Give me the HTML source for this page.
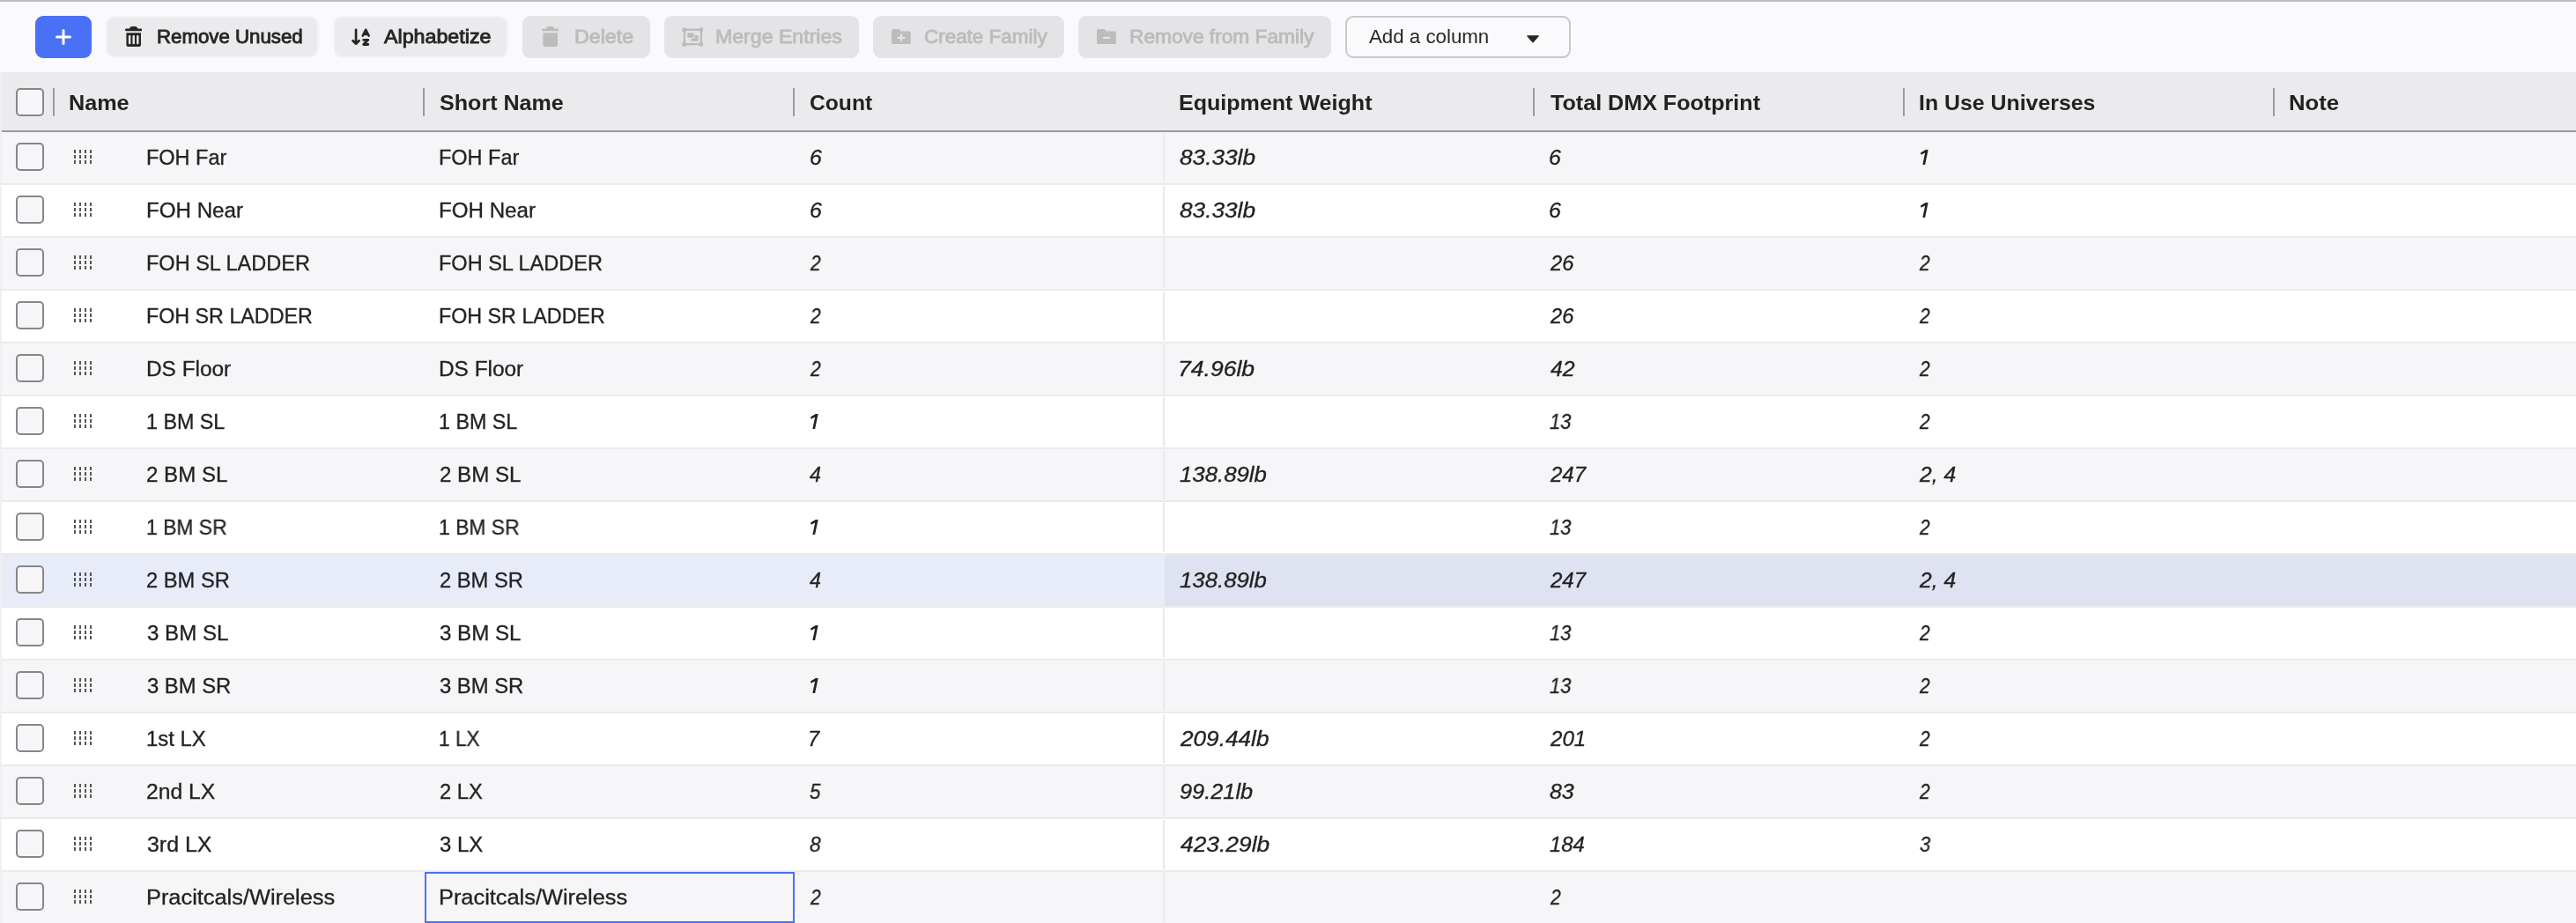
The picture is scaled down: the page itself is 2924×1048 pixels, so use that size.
<!DOCTYPE html>
<html lang="en"><head><meta charset="utf-8"><title>Positions</title>
<style>
html,body{margin:0;padding:0}
body{width:2924px;height:1048px;overflow:hidden;background:#fafafc;font-family:"Liberation Sans",sans-serif;color:#222;position:relative}
.topline{position:absolute;left:0;top:0;width:2924px;height:2px;background:#bcbcc2}
.toolbar{position:absolute;left:0;top:2px;width:2924px;height:80px;background:#fafafc}
.btn{position:absolute;top:16px;height:48px;box-sizing:border-box;border-radius:9px}
.btn.add{left:40px;width:64px;background:#4a71f5}
.btn.plain{background:#ebebee;box-shadow:0 0 0 2px #f4f4f7;border-radius:8px;top:18px;height:44px}
.plain .b{line-height:44px;height:44px}
.btn.dis{background:#e4e4e7}
.btn.sel{background:#fafafc;box-shadow:inset 0 0 0 2px #c9c9cc;border-radius:9px}
.btn svg{position:absolute}
.t{position:absolute;white-space:nowrap;transform-origin:0 50%;display:block;will-change:transform}
.b,.s{font-size:22px;line-height:48px;top:-0.5px;height:48px}
.b{font-size:21.2px;top:-0.4px}
.b{color:#262626;-webkit-text-stroke:0.85px #262626}
.dis .b{color:#bcbcbd;-webkit-text-stroke:0.85px #bcbcbd}
.s{color:#262626}
.grid{position:absolute;left:0;top:82px;width:2924px;height:966px;background:#fff}
.lb{position:absolute;left:0;top:82px;width:2px;height:966px;background:#f0f0f3;z-index:5;border-top-left-radius:3px}
.lbh{position:absolute;left:0;top:82px;width:2px;height:68px;background:#eeeef1;z-index:6;border-top-left-radius:3px}
.hdr{position:absolute;left:0;top:0;width:2924px;height:66px;background:#ebebee;border-bottom:2px solid #9898a2;border-top-left-radius:4px}
.h{font-size:24px;font-weight:bold;line-height:66px;top:2px;height:66px;color:#222}
.sep{position:absolute;top:18px;width:2px;height:32px;background:#9a9aa6}
.cb{position:absolute;left:18px;width:32px;height:32px;box-sizing:border-box;border:2px solid #878789;border-radius:5px;background:#f6f6f8}
.row{position:absolute;left:0;width:2924px;height:58px;border-bottom:2px solid #ebebee;background:#fff}
.row.odd{background:#f6f6f9}
.row.hov{background:#e8ecf9}
.row .rt{position:absolute;left:1322px;top:0;width:1602px;height:58px}
.row .vl{position:absolute;left:1320px;top:1px;width:2px;height:56px;background:#eaeaed}
.row.hov .rt{background:#dfe3f1}
.row.hov .vl{background:#e9edf9}
.r,.i{font-size:23px;line-height:58px;top:0;height:58px;color:#222;-webkit-text-stroke:0.3px #222}
.i{font-style:italic}
.one{position:absolute;top:19.800px}
.drag{position:absolute;left:84px;top:20px;width:20px;height:16px}
.edit{position:absolute;left:482px;top:0;width:420px;height:58px;box-sizing:border-box;border:2px solid #4a71f5;background:#f6f6f9}
</style></head><body>
<div class="topline"></div>
<div class="toolbar">
<div class="btn add"><svg style="left:22px;top:14px" width="20" height="20" viewBox="0 0 20 20"><path d="M10 2.500v15M2.500 10h15" stroke="#fff" stroke-width="3" stroke-linecap="round" fill="none"/></svg></div>
<div class="btn plain" style="left:122px;width:238px"><svg style="left:20px;top:9.800px" width="19.400" height="23" viewBox="0 0 19.400 23"><path fill="#262626" d="M7.300 0h4.800q.600 0 1 .500l1.500 2h3.500a1.350 1.350 0 0 1 0 2.700h-16.800a1.350 1.350 0 0 1 0-2.700h3.500l1.500-2q.400-.500 1-.500zM1.400 7.200h16.600v13.200a2.600 2.600 0 0 1-2.600 2.600h-11.400a2.600 2.600 0 0 1-2.600-2.600z"/><g fill="#ebebee"><rect x="3.900" y="9.900" width="2.400" height="10.400" rx="1.200"/><rect x="8.500" y="9.900" width="2.400" height="10.400" rx="1.200"/><rect x="13.100" y="9.900" width="2.400" height="10.400" rx="1.200"/></g></svg><span class="t b" style="left:55.78px;transform:scaleX(1.0496)">Remove Unused</span></div>
<div class="btn plain" style="left:380px;width:195px"><svg style="left:19px;top:12px" width="22" height="21" viewBox="0 0 22 21" fill="none" stroke="#262626" stroke-linecap="round" stroke-linejoin="round"><path d="M5.060 1.800V17.700M1.600 14.300L5.060 17.800L8.500 14.300" stroke-width="2.700"/><path d="M12.800 8.500L16.200 1.800L19.600 8.500M14.300 6.900H18.100" stroke-width="2.700"/><path d="M13.600 13.300H18.800L13.600 18.500H18.800" stroke-width="2.800"/></svg><span class="t b" style="left:55.92px;transform:scaleX(1.0966)">Alphabetize</span></div>
<div class="btn dis" style="left:593px;width:145px"><svg style="left:22px;top:12px" width="19.400" height="23" viewBox="0 0 19.400 23"><path fill="#bcbcbd" d="M7.300 0h4.800q.600 0 1 .500l1.500 2h3.500a1.350 1.350 0 0 1 0 2.700h-16.800a1.350 1.350 0 0 1 0-2.700h3.500l1.500-2q.400-.500 1-.500zM1.400 7.200h16.600v13.200a2.600 2.600 0 0 1-2.600 2.600h-11.400a2.600 2.600 0 0 1-2.600-2.600z"/></svg><span class="t b" style="left:58.8px;transform:scaleX(1.0967)">Delete</span></div>
<div class="btn dis" style="left:754px;width:221px"><svg style="left:19.600px;top:13px" width="24.800" height="22" viewBox="0 0 24.800 22"><rect x="2.900" y="2.800" width="19" height="16.400" fill="none" stroke="#bcbcbd" stroke-width="2.300"/><g fill="#bcbcbd"><circle cx="2.700" cy="2.800" r="2.650"/><circle cx="22.100" cy="2.800" r="2.650"/><circle cx="2.700" cy="19.200" r="2.650"/><circle cx="22.100" cy="19.200" r="2.650"/><rect x="10.400" y="8.800" width="8.200" height="7" rx="1.600"/></g><rect x="5" y="5" width="9.900" height="8" rx="2.400" fill="#e4e4e7"/><rect x="6.200" y="6.200" width="7.400" height="5.500" rx="1.400" fill="#bcbcbd"/></svg><span class="t b" style="left:58.01px;transform:scaleX(1.0911)">Merge Entries</span></div>
<div class="btn dis" style="left:991px;width:217px"><svg style="left:21px;top:14.800px" width="21.800" height="17.700" viewBox="0 0 21.800 17.700"><path fill="#bcbcbd" d="M2 0h5.800q.800 0 1.400.600l1.800 1.800H19.800a2 2 0 0 1 2 2V15.700a2 2 0 0 1-2 2H2a2 2 0 0 1-2-2V2a2 2 0 0 1 2-2z"/><path d="M11 6.300v7M7.500 9.800h7" stroke="#e4e4e7" stroke-width="2.200" stroke-linecap="round"/></svg><span class="t b" style="left:58.07px;transform:scaleX(1.0588)">Create Family</span></div>
<div class="btn dis" style="left:1224px;width:287px"><svg style="left:21px;top:14.800px" width="21.800" height="17.700" viewBox="0 0 21.800 17.700"><path fill="#bcbcbd" d="M2 0h5.800q.800 0 1.400.600l1.800 1.800H19.800a2 2 0 0 1 2 2V15.700a2 2 0 0 1-2 2H2a2 2 0 0 1-2-2V2a2 2 0 0 1 2-2z"/><path d="M7.800 9.800h6.400" stroke="#e4e4e7" stroke-width="2.200" stroke-linecap="round"/></svg><span class="t b" style="left:57.85px;transform:scaleX(1.0715)">Remove from Family</span></div>
<div class="btn sel" style="left:1527px;width:256px"><span class="t s" style="left:26.8px;transform:scaleX(1.0128)">Add a column</span><svg style="left:205px;top:22px" width="16" height="9" viewBox="0 0 16 9"><path d="M1.500 0.800h13L8 8.300z" fill="#262626" stroke="#262626" stroke-width="1" stroke-linejoin="round"/></svg></div>
</div>
<div class="grid">
<div class="hdr"><div class="cb" style="top:18px"></div><div class="sep" style="left:60px"></div><span class="t h" style="left:78.33px;transform:scaleX(1.0495)">Name</span><div class="sep" style="left:480px"></div><span class="t h" style="left:499.01px;transform:scaleX(1.0454)">Short Name</span><div class="sep" style="left:900px"></div><span class="t h" style="left:918.63px;transform:scaleX(1.0272)">Count</span><span class="t h" style="left:1338.03px;transform:scaleX(1.0441)">Equipment Weight</span><div class="sep" style="left:1740px"></div><span class="t h" style="left:1759.8px;transform:scaleX(1.0462)">Total DMX Footprint</span><div class="sep" style="left:2160px"></div><span class="t h" style="left:2178.15px;transform:scaleX(1.0358)">In Use Universes</span><div class="sep" style="left:2580px"></div><span class="t h" style="left:2598.1px;transform:scaleX(1.0696)">Note</span></div>
<div class="row odd" style="top:68px"><div class="rt"></div><div class="vl"></div><div class="cb" style="top:12px"></div><svg class="drag" width="20" height="16" viewBox="0 0 20 16" shape-rendering="crispEdges"><g fill="#555"><rect x="0" y="0" width="2" height="4"/><rect x="0" y="6" width="2" height="4"/><rect x="0" y="12" width="2" height="4"/><rect x="6" y="0" width="2" height="4"/><rect x="6" y="6" width="2" height="4"/><rect x="6" y="12" width="2" height="4"/><rect x="12" y="0" width="2" height="4"/><rect x="12" y="6" width="2" height="4"/><rect x="12" y="12" width="2" height="4"/><rect x="18" y="0" width="2" height="4"/><rect x="18" y="6" width="2" height="4"/><rect x="18" y="12" width="2" height="4"/></g></svg><span class="t r" style="left:165.77px;transform:scaleX(1.0202)">FOH Far</span><span class="t r" style="left:497.87px;transform:scaleX(1.0202)">FOH Far</span><span class="t i" style="left:918.84px;transform:scaleX(1.0793)">6</span><span class="t i" style="left:1339.29px;transform:scaleX(1.1392)">83.33lb</span><span class="t i" style="left:1758.44px;transform:scaleX(1.0793)">6</span><svg class="one" style="left:2179.6px" width="9" height="17.500" viewBox="0 0 9 17.500" role="img" aria-label="1"><title>1</title><path fill="#222" d="M5.800 0H8.650L5.050 17.300H2.300L5.150 3.500L.700 5.800L0 3.400Z"/></svg></div>
<div class="row" style="top:128px"><div class="rt"></div><div class="vl"></div><div class="cb" style="top:12px"></div><svg class="drag" width="20" height="16" viewBox="0 0 20 16" shape-rendering="crispEdges"><g fill="#555"><rect x="0" y="0" width="2" height="4"/><rect x="0" y="6" width="2" height="4"/><rect x="0" y="12" width="2" height="4"/><rect x="6" y="0" width="2" height="4"/><rect x="6" y="6" width="2" height="4"/><rect x="6" y="12" width="2" height="4"/><rect x="12" y="0" width="2" height="4"/><rect x="12" y="6" width="2" height="4"/><rect x="12" y="12" width="2" height="4"/><rect x="18" y="0" width="2" height="4"/><rect x="18" y="6" width="2" height="4"/><rect x="18" y="12" width="2" height="4"/></g></svg><span class="t r" style="left:165.71px;transform:scaleX(1.0497)">FOH Near</span><span class="t r" style="left:497.81px;transform:scaleX(1.0497)">FOH Near</span><span class="t i" style="left:918.84px;transform:scaleX(1.0793)">6</span><span class="t i" style="left:1339.29px;transform:scaleX(1.1392)">83.33lb</span><span class="t i" style="left:1758.44px;transform:scaleX(1.0793)">6</span><svg class="one" style="left:2179.6px" width="9" height="17.500" viewBox="0 0 9 17.500" role="img" aria-label="1"><title>1</title><path fill="#222" d="M5.800 0H8.650L5.050 17.300H2.300L5.150 3.500L.700 5.800L0 3.400Z"/></svg></div>
<div class="row odd" style="top:188px"><div class="rt"></div><div class="vl"></div><div class="cb" style="top:12px"></div><svg class="drag" width="20" height="16" viewBox="0 0 20 16" shape-rendering="crispEdges"><g fill="#555"><rect x="0" y="0" width="2" height="4"/><rect x="0" y="6" width="2" height="4"/><rect x="0" y="12" width="2" height="4"/><rect x="6" y="0" width="2" height="4"/><rect x="6" y="6" width="2" height="4"/><rect x="6" y="12" width="2" height="4"/><rect x="12" y="0" width="2" height="4"/><rect x="12" y="6" width="2" height="4"/><rect x="12" y="12" width="2" height="4"/><rect x="18" y="0" width="2" height="4"/><rect x="18" y="6" width="2" height="4"/><rect x="18" y="12" width="2" height="4"/></g></svg><span class="t r" style="left:165.76px;transform:scaleX(1.0218)">FOH SL LADDER</span><span class="t r" style="left:497.86px;transform:scaleX(1.0218)">FOH SL LADDER</span><span class="t i" style="left:919.63px;transform:scaleX(0.9121)">2</span><span class="t i" style="left:1759.97px;transform:scaleX(1.0273)">26</span><span class="t i" style="left:2179.33px;transform:scaleX(0.9121)">2</span></div>
<div class="row" style="top:248px"><div class="rt"></div><div class="vl"></div><div class="cb" style="top:12px"></div><svg class="drag" width="20" height="16" viewBox="0 0 20 16" shape-rendering="crispEdges"><g fill="#555"><rect x="0" y="0" width="2" height="4"/><rect x="0" y="6" width="2" height="4"/><rect x="0" y="12" width="2" height="4"/><rect x="6" y="0" width="2" height="4"/><rect x="6" y="6" width="2" height="4"/><rect x="6" y="12" width="2" height="4"/><rect x="12" y="0" width="2" height="4"/><rect x="12" y="6" width="2" height="4"/><rect x="12" y="12" width="2" height="4"/><rect x="18" y="0" width="2" height="4"/><rect x="18" y="6" width="2" height="4"/><rect x="18" y="12" width="2" height="4"/></g></svg><span class="t r" style="left:165.78px;transform:scaleX(1.0120)">FOH SR LADDER</span><span class="t r" style="left:497.88px;transform:scaleX(1.0120)">FOH SR LADDER</span><span class="t i" style="left:919.63px;transform:scaleX(0.9121)">2</span><span class="t i" style="left:1759.97px;transform:scaleX(1.0273)">26</span><span class="t i" style="left:2179.33px;transform:scaleX(0.9121)">2</span></div>
<div class="row odd" style="top:308px"><div class="rt"></div><div class="vl"></div><div class="cb" style="top:12px"></div><svg class="drag" width="20" height="16" viewBox="0 0 20 16" shape-rendering="crispEdges"><g fill="#555"><rect x="0" y="0" width="2" height="4"/><rect x="0" y="6" width="2" height="4"/><rect x="0" y="12" width="2" height="4"/><rect x="6" y="0" width="2" height="4"/><rect x="6" y="6" width="2" height="4"/><rect x="6" y="12" width="2" height="4"/><rect x="12" y="0" width="2" height="4"/><rect x="12" y="6" width="2" height="4"/><rect x="12" y="12" width="2" height="4"/><rect x="18" y="0" width="2" height="4"/><rect x="18" y="6" width="2" height="4"/><rect x="18" y="12" width="2" height="4"/></g></svg><span class="t r" style="left:165.69px;transform:scaleX(1.0604)">DS Floor</span><span class="t r" style="left:497.79px;transform:scaleX(1.0604)">DS Floor</span><span class="t i" style="left:919.63px;transform:scaleX(0.9121)">2</span><span class="t i" style="left:1337.21px;transform:scaleX(1.1536)">74.96lb</span><span class="t i" style="left:1759.6px;transform:scaleX(1.0800)">42</span><span class="t i" style="left:2179.33px;transform:scaleX(0.9121)">2</span></div>
<div class="row" style="top:368px"><div class="rt"></div><div class="vl"></div><div class="cb" style="top:12px"></div><svg class="drag" width="20" height="16" viewBox="0 0 20 16" shape-rendering="crispEdges"><g fill="#555"><rect x="0" y="0" width="2" height="4"/><rect x="0" y="6" width="2" height="4"/><rect x="0" y="12" width="2" height="4"/><rect x="6" y="0" width="2" height="4"/><rect x="6" y="6" width="2" height="4"/><rect x="6" y="12" width="2" height="4"/><rect x="12" y="0" width="2" height="4"/><rect x="12" y="6" width="2" height="4"/><rect x="12" y="12" width="2" height="4"/><rect x="18" y="0" width="2" height="4"/><rect x="18" y="6" width="2" height="4"/><rect x="18" y="12" width="2" height="4"/></g></svg><span class="t r" style="left:166.15px;transform:scaleX(1.0117)">1 BM SL</span><span class="t r" style="left:498.25px;transform:scaleX(1.0117)">1 BM SL</span><svg class="one" style="left:920.0px" width="9" height="17.500" viewBox="0 0 9 17.500" role="img" aria-label="1"><title>1</title><path fill="#222" d="M5.800 0H8.650L5.050 17.300H2.300L5.150 3.500L.700 5.800L0 3.400Z"/></svg><span class="t i" style="left:1759.26px;transform:scaleX(0.9500)">13</span><span class="t i" style="left:2179.33px;transform:scaleX(0.9121)">2</span></div>
<div class="row odd" style="top:428px"><div class="rt"></div><div class="vl"></div><div class="cb" style="top:12px"></div><svg class="drag" width="20" height="16" viewBox="0 0 20 16" shape-rendering="crispEdges"><g fill="#555"><rect x="0" y="0" width="2" height="4"/><rect x="0" y="6" width="2" height="4"/><rect x="0" y="12" width="2" height="4"/><rect x="6" y="0" width="2" height="4"/><rect x="6" y="6" width="2" height="4"/><rect x="6" y="12" width="2" height="4"/><rect x="12" y="0" width="2" height="4"/><rect x="12" y="6" width="2" height="4"/><rect x="12" y="12" width="2" height="4"/><rect x="18" y="0" width="2" height="4"/><rect x="18" y="6" width="2" height="4"/><rect x="18" y="12" width="2" height="4"/></g></svg><span class="t r" style="left:166.47px;transform:scaleX(1.0468)">2 BM SL</span><span class="t r" style="left:498.57px;transform:scaleX(1.0468)">2 BM SL</span><span class="t i" style="left:919.3px;transform:scaleX(1.0148)">4</span><span class="t i" style="left:1339.3px;transform:scaleX(1.1212)">138.89lb</span><span class="t i" style="left:1759.98px;transform:scaleX(1.0455)">247</span><span class="t i" style="left:2179.39px;transform:scaleX(1.0747)">2, 4</span></div>
<div class="row" style="top:488px"><div class="rt"></div><div class="vl"></div><div class="cb" style="top:12px"></div><svg class="drag" width="20" height="16" viewBox="0 0 20 16" shape-rendering="crispEdges"><g fill="#555"><rect x="0" y="0" width="2" height="4"/><rect x="0" y="6" width="2" height="4"/><rect x="0" y="12" width="2" height="4"/><rect x="6" y="0" width="2" height="4"/><rect x="6" y="6" width="2" height="4"/><rect x="6" y="12" width="2" height="4"/><rect x="12" y="0" width="2" height="4"/><rect x="12" y="6" width="2" height="4"/><rect x="12" y="12" width="2" height="4"/><rect x="18" y="0" width="2" height="4"/><rect x="18" y="6" width="2" height="4"/><rect x="18" y="12" width="2" height="4"/></g></svg><span class="t r" style="left:166.17px;transform:scaleX(0.9946)">1 BM SR</span><span class="t r" style="left:498.27px;transform:scaleX(0.9946)">1 BM SR</span><svg class="one" style="left:920.0px" width="9" height="17.500" viewBox="0 0 9 17.500" role="img" aria-label="1"><title>1</title><path fill="#222" d="M5.800 0H8.650L5.050 17.300H2.300L5.150 3.500L.700 5.800L0 3.400Z"/></svg><span class="t i" style="left:1759.26px;transform:scaleX(0.9500)">13</span><span class="t i" style="left:2179.33px;transform:scaleX(0.9121)">2</span></div>
<div class="row odd hov" style="top:548px"><div class="rt"></div><div class="vl"></div><div class="cb" style="top:12px"></div><svg class="drag" width="20" height="16" viewBox="0 0 20 16" shape-rendering="crispEdges"><g fill="#555"><rect x="0" y="0" width="2" height="4"/><rect x="0" y="6" width="2" height="4"/><rect x="0" y="12" width="2" height="4"/><rect x="6" y="0" width="2" height="4"/><rect x="6" y="6" width="2" height="4"/><rect x="6" y="12" width="2" height="4"/><rect x="12" y="0" width="2" height="4"/><rect x="12" y="6" width="2" height="4"/><rect x="12" y="12" width="2" height="4"/><rect x="18" y="0" width="2" height="4"/><rect x="18" y="6" width="2" height="4"/><rect x="18" y="12" width="2" height="4"/></g></svg><span class="t r" style="left:166.49px;transform:scaleX(1.0305)">2 BM SR</span><span class="t r" style="left:498.59px;transform:scaleX(1.0305)">2 BM SR</span><span class="t i" style="left:919.3px;transform:scaleX(1.0148)">4</span><span class="t i" style="left:1339.3px;transform:scaleX(1.1212)">138.89lb</span><span class="t i" style="left:1759.98px;transform:scaleX(1.0455)">247</span><span class="t i" style="left:2179.39px;transform:scaleX(1.0747)">2, 4</span></div>
<div class="row" style="top:608px"><div class="rt"></div><div class="vl"></div><div class="cb" style="top:12px"></div><svg class="drag" width="20" height="16" viewBox="0 0 20 16" shape-rendering="crispEdges"><g fill="#555"><rect x="0" y="0" width="2" height="4"/><rect x="0" y="6" width="2" height="4"/><rect x="0" y="12" width="2" height="4"/><rect x="6" y="0" width="2" height="4"/><rect x="6" y="6" width="2" height="4"/><rect x="6" y="12" width="2" height="4"/><rect x="12" y="0" width="2" height="4"/><rect x="12" y="6" width="2" height="4"/><rect x="12" y="12" width="2" height="4"/><rect x="18" y="0" width="2" height="4"/><rect x="18" y="6" width="2" height="4"/><rect x="18" y="12" width="2" height="4"/></g></svg><span class="t r" style="left:166.85px;transform:scaleX(1.0482)">3 BM SL</span><span class="t r" style="left:498.95px;transform:scaleX(1.0482)">3 BM SL</span><svg class="one" style="left:920.0px" width="9" height="17.500" viewBox="0 0 9 17.500" role="img" aria-label="1"><title>1</title><path fill="#222" d="M5.800 0H8.650L5.050 17.300H2.300L5.150 3.500L.700 5.800L0 3.400Z"/></svg><span class="t i" style="left:1759.26px;transform:scaleX(0.9500)">13</span><span class="t i" style="left:2179.33px;transform:scaleX(0.9121)">2</span></div>
<div class="row odd" style="top:668px"><div class="rt"></div><div class="vl"></div><div class="cb" style="top:12px"></div><svg class="drag" width="20" height="16" viewBox="0 0 20 16" shape-rendering="crispEdges"><g fill="#555"><rect x="0" y="0" width="2" height="4"/><rect x="0" y="6" width="2" height="4"/><rect x="0" y="12" width="2" height="4"/><rect x="6" y="0" width="2" height="4"/><rect x="6" y="6" width="2" height="4"/><rect x="6" y="12" width="2" height="4"/><rect x="12" y="0" width="2" height="4"/><rect x="12" y="6" width="2" height="4"/><rect x="12" y="12" width="2" height="4"/><rect x="18" y="0" width="2" height="4"/><rect x="18" y="6" width="2" height="4"/><rect x="18" y="12" width="2" height="4"/></g></svg><span class="t r" style="left:166.86px;transform:scaleX(1.0353)">3 BM SR</span><span class="t r" style="left:498.96px;transform:scaleX(1.0353)">3 BM SR</span><svg class="one" style="left:920.0px" width="9" height="17.500" viewBox="0 0 9 17.500" role="img" aria-label="1"><title>1</title><path fill="#222" d="M5.800 0H8.650L5.050 17.300H2.300L5.150 3.500L.700 5.800L0 3.400Z"/></svg><span class="t i" style="left:1759.26px;transform:scaleX(0.9500)">13</span><span class="t i" style="left:2179.33px;transform:scaleX(0.9121)">2</span></div>
<div class="row" style="top:728px"><div class="rt"></div><div class="vl"></div><div class="cb" style="top:12px"></div><svg class="drag" width="20" height="16" viewBox="0 0 20 16" shape-rendering="crispEdges"><g fill="#555"><rect x="0" y="0" width="2" height="4"/><rect x="0" y="6" width="2" height="4"/><rect x="0" y="12" width="2" height="4"/><rect x="6" y="0" width="2" height="4"/><rect x="6" y="6" width="2" height="4"/><rect x="6" y="12" width="2" height="4"/><rect x="12" y="0" width="2" height="4"/><rect x="12" y="6" width="2" height="4"/><rect x="12" y="12" width="2" height="4"/><rect x="18" y="0" width="2" height="4"/><rect x="18" y="6" width="2" height="4"/><rect x="18" y="12" width="2" height="4"/></g></svg><span class="t r" style="left:166.11px;transform:scaleX(1.0375)">1st LX</span><span class="t r" style="left:498.29px;transform:scaleX(0.9818)">1 LX</span><span class="t i" style="left:917.09px;transform:scaleX(1.0261)">7</span><span class="t i" style="left:1340.11px;transform:scaleX(1.1382)">209.44lb</span><span class="t i" style="left:1759.98px;transform:scaleX(1.0463)">201</span><span class="t i" style="left:2179.33px;transform:scaleX(0.9121)">2</span></div>
<div class="row odd" style="top:788px"><div class="rt"></div><div class="vl"></div><div class="cb" style="top:12px"></div><svg class="drag" width="20" height="16" viewBox="0 0 20 16" shape-rendering="crispEdges"><g fill="#555"><rect x="0" y="0" width="2" height="4"/><rect x="0" y="6" width="2" height="4"/><rect x="0" y="12" width="2" height="4"/><rect x="6" y="0" width="2" height="4"/><rect x="6" y="6" width="2" height="4"/><rect x="6" y="12" width="2" height="4"/><rect x="12" y="0" width="2" height="4"/><rect x="12" y="6" width="2" height="4"/><rect x="12" y="12" width="2" height="4"/><rect x="18" y="0" width="2" height="4"/><rect x="18" y="6" width="2" height="4"/><rect x="18" y="12" width="2" height="4"/></g></svg><span class="t r" style="left:166.44px;transform:scaleX(1.0730)">2nd LX</span><span class="t r" style="left:498.59px;transform:scaleX(1.0307)">2 LX</span><span class="t i" style="left:918.95px;transform:scaleX(0.9699)">5</span><span class="t i" style="left:1338.91px;transform:scaleX(1.1016)">99.21lb</span><span class="t i" style="left:1759.21px;transform:scaleX(1.0800)">83</span><span class="t i" style="left:2179.33px;transform:scaleX(0.9121)">2</span></div>
<div class="row" style="top:848px"><div class="rt"></div><div class="vl"></div><div class="cb" style="top:12px"></div><svg class="drag" width="20" height="16" viewBox="0 0 20 16" shape-rendering="crispEdges"><g fill="#555"><rect x="0" y="0" width="2" height="4"/><rect x="0" y="6" width="2" height="4"/><rect x="0" y="12" width="2" height="4"/><rect x="6" y="0" width="2" height="4"/><rect x="6" y="6" width="2" height="4"/><rect x="6" y="12" width="2" height="4"/><rect x="12" y="0" width="2" height="4"/><rect x="12" y="6" width="2" height="4"/><rect x="12" y="12" width="2" height="4"/><rect x="18" y="0" width="2" height="4"/><rect x="18" y="6" width="2" height="4"/><rect x="18" y="12" width="2" height="4"/></g></svg><span class="t r" style="left:166.82px;transform:scaleX(1.0839)">3rd LX</span><span class="t r" style="left:498.95px;transform:scaleX(1.0400)">3 LX</span><span class="t i" style="left:918.95px;transform:scaleX(0.9858)">8</span><span class="t i" style="left:1339.7px;transform:scaleX(1.1463)">423.29lb</span><span class="t i" style="left:1759.23px;transform:scaleX(1.0363)">184</span><span class="t i" style="left:2178.66px;transform:scaleX(0.9540)">3</span></div>
<div class="row odd" style="top:908px"><div class="rt"></div><div class="vl"></div><div class="cb" style="top:12px"></div><svg class="drag" width="20" height="16" viewBox="0 0 20 16" shape-rendering="crispEdges"><g fill="#555"><rect x="0" y="0" width="2" height="4"/><rect x="0" y="6" width="2" height="4"/><rect x="0" y="12" width="2" height="4"/><rect x="6" y="0" width="2" height="4"/><rect x="6" y="6" width="2" height="4"/><rect x="6" y="12" width="2" height="4"/><rect x="12" y="0" width="2" height="4"/><rect x="12" y="6" width="2" height="4"/><rect x="12" y="12" width="2" height="4"/><rect x="18" y="0" width="2" height="4"/><rect x="18" y="6" width="2" height="4"/><rect x="18" y="12" width="2" height="4"/></g></svg><span class="t r" style="left:165.62px;transform:scaleX(1.1025)">Pracitcals/Wireless</span><div class="edit"></div><span class="t r" style="left:497.72px;transform:scaleX(1.1025)">Pracitcals/Wireless</span><span class="t i" style="left:919.63px;transform:scaleX(0.9121)">2</span><span class="t i" style="left:1759.93px;transform:scaleX(0.9121)">2</span></div>
</div>
<div class="lb"></div><div class="lbh"></div>
</body></html>
